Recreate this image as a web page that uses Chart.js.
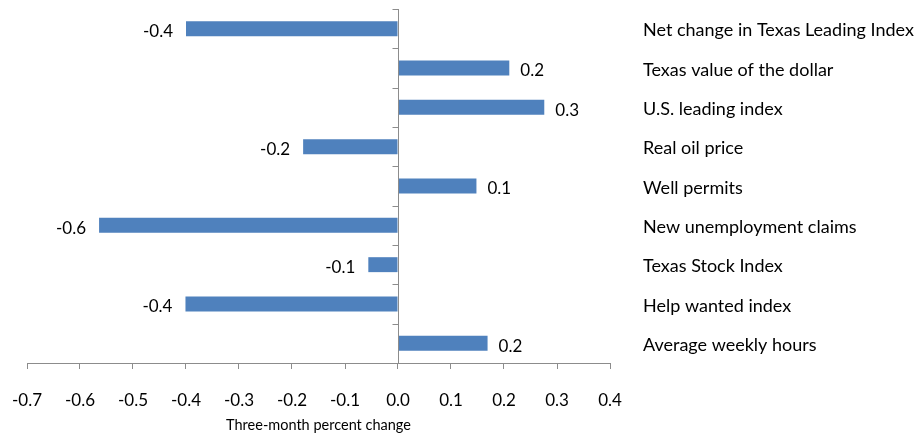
<!DOCTYPE html>
<html>
<head>
<meta charset="utf-8">
<script src="https://cdn.jsdelivr.net/npm/chart.js@4/dist/chart.umd.min.js"></script>
<style>
html,body{margin:0;padding:0;background:#fff;}
#wrap{width:921px;height:434px;position:relative;}
</style>
</head>
<body>
<div id="wrap"><canvas id="c" width="921" height="434"></canvas></div>
<script>
const categories = [
  "Net change in Texas Leading Index",
  "Texas value of the dollar",
  "U.S. leading index",
  "Real oil price",
  "Well permits",
  "New unemployment claims",
  "Texas Stock Index",
  "Help wanted index",
  "Average weekly hours"
];
const values = [-0.40, 0.21, 0.276, -0.179, 0.148, -0.564, -0.056, -0.401, 0.169];
const xTicks = [-0.7, -0.6, -0.5, -0.4, -0.3, -0.2, -0.1, 0.0, 0.1, 0.2, 0.3, 0.4];
const axisTitle = "Three-month percent change";

const FONT = "Lato, 'Open Sans', sans-serif";
const AXIS_COLOR = "#8c8c8c";

const zeroLinePlugin = {
  id: 'zeroLine',
  afterDatasetsDraw(chart) {
    const {ctx, scales: {x, y}} = chart;
    const zx = Math.round(x.getPixelForValue(0)) + 0.5;
    const step = y.getPixelForValue(1) - y.getPixelForValue(0);
    ctx.save();
    ctx.strokeStyle = AXIS_COLOR;
    ctx.lineWidth = 1;
    ctx.beginPath();
    ctx.moveTo(zx, y.top);
    ctx.lineTo(zx, y.bottom);
    for (let i = 0; i < categories.length; i++) {
      const yy = Math.round(y.getPixelForValue(i) - step / 2) + 0.5;
      ctx.moveTo(zx - 6, yy);
      ctx.lineTo(zx, yy);
    }
    ctx.stroke();
    ctx.restore();
  }
};

const labelPlugin = {
  id: 'valueLabels',
  afterDatasetsDraw(chart) {
    const {ctx} = chart;
    const meta = chart.getDatasetMeta(0);
    ctx.save();
    ctx.font = "17px " + FONT;
    ctx.fillStyle = "#000";
    ctx.textBaseline = "middle";
    meta.data.forEach((bar, i) => {
      const v = values[i];
      const txt = v.toFixed(1);
      if (v < 0) {
        ctx.textAlign = "right";
        ctx.fillText(txt, bar.x - 13, bar.y + 3);
      } else {
        ctx.textAlign = "left";
        ctx.fillText(txt, bar.x + 11, bar.y + 3);
      }
    });
    ctx.restore();
  }
};

new Chart(document.getElementById('c'), {
  type: 'bar',
  data: {
    labels: categories,
    datasets: [{
      data: values,
      backgroundColor: '#4F81BD',
      borderWidth: 0,
      barPercentage: 0.38,
      categoryPercentage: 1.0
    }]
  },
  options: {
    indexAxis: 'y',
    responsive: false,
    animation: false,
    devicePixelRatio: 1,
    layout: { padding: { left: 27, top: 9, right: 0, bottom: 0 } },
    plugins: { legend: { display: false }, tooltip: { enabled: false } },
    scales: {
      x: {
        type: 'linear',
        position: 'bottom',
        min: -0.7,
        max: 0.4,
        afterBuildTicks: s => { s.ticks = xTicks.map(v => ({ value: v })); },
        afterFit: s => { s.height = 71; s.paddingLeft = 0; s.paddingRight = 0; },
        ticks: {
          callback: v => Number(v).toFixed(1),
          font: { family: FONT, size: 17 },
          color: '#000',
          padding: 21,
          maxRotation: 0
        },
        grid: {
          drawOnChartArea: false,
          drawTicks: true,
          tickLength: 6,
          color: AXIS_COLOR
        },
        border: { display: true, color: AXIS_COLOR },
        title: {
          display: true,
          text: axisTitle,
          font: { family: FONT, size: 14.5 },
          color: '#000',
          padding: { top: 0, bottom: 0 }
        }
      },
      y: {
        position: 'right',
        afterFit: s => { s.width = 311; s.paddingTop = 0; s.paddingBottom = 0; },
        ticks: {
          font: { family: FONT, size: 18 },
          color: '#000',
          padding: 33,
          labelOffset: 2
        },
        grid: { display: false, drawTicks: false },
        border: { display: false }
      }
    }
  },
  plugins: [zeroLinePlugin, labelPlugin]
});
</script>
</body>
</html>
